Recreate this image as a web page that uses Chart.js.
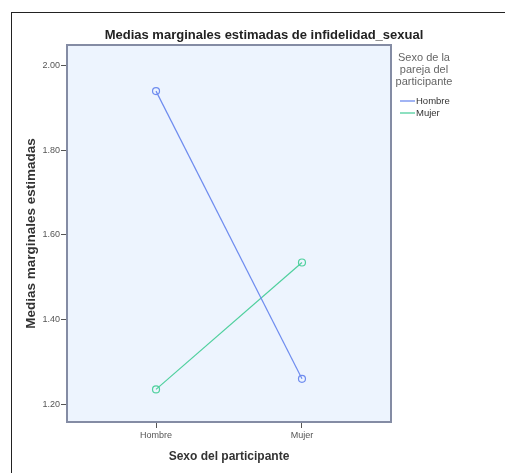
<!DOCTYPE html>
<html>
<head>
<meta charset="utf-8">
<script src="https://cdn.jsdelivr.net/npm/chart.js@4"></script>
<style>
  html, body { margin: 0; padding: 0; background: #fff; overflow: hidden; }
  #frame { position: absolute; left: 11px; top: 12px; width: 600px; height: 600px;
           border-left: 1px solid #222; border-top: 1px solid #222; }
  #wrap { position: absolute; left: 0; top: 0; width: 505px; height: 473px; }
</style>
</head>
<body>
<div id="frame"></div>
<div id="wrap"><canvas id="chart"></canvas></div>
<script>
// values
const categories = ["Hombre", "Mujer"];
const hombreValues = [1.94, 1.26];
const mujerValues = [1.235, 1.535];
const yTicks = [1.2, 1.4, 1.6, 1.8, 2.0];
const legendTitle = ["Sexo de la", "pareja del", "participante"];

const sans = "'Liberation Sans', Arial, sans-serif";

function toPoints(values) {
  return values.map((v, i) => ({ x: i, y: v }));
}

// light blue plot background and grey frame like SPSS
const plotFrame = {
  id: "plotFrame",
  beforeDraw(chart) {
    const { ctx, chartArea: a } = chart;
    ctx.save();
    ctx.fillStyle = "#edf4fe";
    ctx.fillRect(a.left, a.top, a.right - a.left, a.bottom - a.top);
    ctx.restore();
  },
  beforeDatasetsDraw(chart) {
    const { ctx, chartArea: a } = chart;
    ctx.save();
    ctx.strokeStyle = "#848ca4";
    ctx.lineWidth = 2;
    ctx.strokeRect(a.left, a.top, a.right - a.left, a.bottom - a.top);
    ctx.restore();
  }
};

// legend on the right, drawn from the datasets
const sideLegend = {
  id: "sideLegend",
  afterDraw(chart) {
    const { ctx } = chart;
    const cx = 424;
    ctx.save();
    ctx.textAlign = "center";
    ctx.textBaseline = "middle";
    ctx.fillStyle = "#666";
    ctx.font = "11px " + sans;
    legendTitle.forEach((t, i) => ctx.fillText(t, cx, 58 + i * 11.8));
    ctx.textAlign = "left";
    ctx.font = "9.5px " + sans;
    chart.data.datasets.forEach((ds, i) => {
      const y = 101 + i * 12;
      ctx.strokeStyle = ds.borderColor;
      ctx.lineWidth = 1.3;
      ctx.beginPath();
      ctx.moveTo(400, y);
      ctx.lineTo(415, y);
      ctx.stroke();
      ctx.fillStyle = "#333";
      ctx.fillText(ds.label, 416, y);
    });
    ctx.restore();
  }
};

const lineStyle = {
  borderWidth: 1.2,
  pointRadius: 3.5,
  pointHoverRadius: 3.5,
  pointBorderWidth: 1.2,
  pointBackgroundColor: "rgba(0,0,0,0)",
  fill: false,
  tension: 0,
  clip: false,
  yAxisID: "y"
};

const data = {
  datasets: [
    Object.assign({ label: "Hombre", data: toPoints(hombreValues),
      borderColor: "#6f8cef", pointBorderColor: "#6f8cef" }, lineStyle),
    Object.assign({ label: "Mujer", data: toPoints(mujerValues),
      borderColor: "#4fd09e", pointBorderColor: "#4fd09e" }, lineStyle)
  ]
};

const config = {
  type: "line",
  data: data,
  options: {
    responsive: true,
    maintainAspectRatio: false,
    animation: false,
    layout: { padding: { top: 27.4, left: 23, right: 0, bottom: 0 } },
    plugins: {
      legend: { display: false },
      tooltip: { enabled: false },
      title: {
        display: true,
        text: "Medias marginales estimadas de infidelidad_sexual",
        font: { family: sans, size: 13, weight: "bold" },
        color: "#222",
        padding: { top: 0, bottom: 2 }
      }
    },
    scales: {
      x: {
        type: "linear",
        min: -0.61,
        max: 1.61,
        afterBuildTicks(s) { s.ticks = categories.map((c, i) => ({ value: i })); },
        ticks: {
          callback: (v) => categories[v],
          font: { family: sans, size: 9 },
          color: "#555",
          padding: 2,
          maxRotation: 0,
          autoSkip: false
        },
        grid: { drawOnChartArea: false, drawTicks: true, tickLength: 6, color: "#555" },
        border: { display: false },
        title: {
          display: true,
          text: "Sexo del participante",
          font: { family: sans, size: 12, weight: "bold" },
          color: "#333",
          padding: { top: 4, bottom: 9 }
        },
        afterFit(s) { s.height = 51; }
      },
      y: {
        position: "left",
        min: 1.158,
        max: 2.049,
        afterBuildTicks(s) { s.ticks = yTicks.map((v) => ({ value: v })); },
        ticks: {
          callback: (v) => v.toFixed(2),
          font: { family: sans, size: 9 },
          color: "#555",
          padding: 1
        },
        grid: { drawOnChartArea: false, drawTicks: true, tickLength: 6, color: "#555" },
        border: { display: false },
        title: {
          display: true,
          text: "Medias marginales estimadas",
          font: { family: sans, size: 13.5, weight: "bold" },
          color: "#333",
          padding: { top: 0, bottom: 0 }
        },
        afterFit(s) { s.width = 44; }
      },
      // empty axis that only reserves room for the legend
      side: {
        position: "right",
        display: true,
        grid: { display: false },
        ticks: { display: false },
        border: { display: false },
        afterFit(s) { s.width = 114; }
      }
    }
  },
  plugins: [plotFrame, sideLegend]
};

const myChart = new Chart(document.getElementById("chart"), config);
</script>
</body>
</html>
